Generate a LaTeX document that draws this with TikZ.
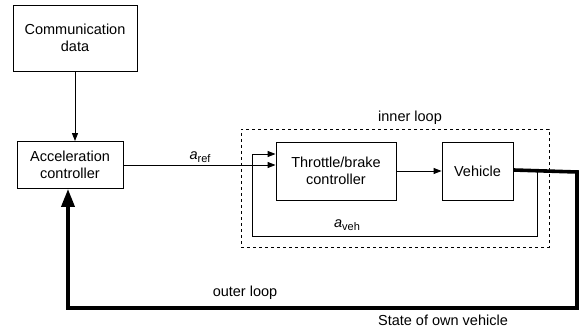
\documentclass[tikz,border=0pt]{standalone}
\usepackage{fontspec}
\setmainfont{Liberation Sans}
\usetikzlibrary{arrows.meta}
\begin{document}
\begin{tikzpicture}[x=1pt,y=-1pt,
  every node/.style={font=\fontsize{14.5}{17}\selectfont},
  blk/.style={draw,line width=0.9pt,align=center,inner sep=0pt},
  thin/.style={line width=0.9pt},
  sig/.style={thin,-{Triangle[length=8pt,width=6pt]}},
  bigsig/.style={line width=3.6pt,-{Triangle[length=18pt,width=13pt]}},
  lbl/.style={inner sep=0pt}]
\useasboundingbox (0,0) rectangle (579,329);
\node[blk,minimum width=124pt,minimum height=66pt] (comm) at (75,38) {Communication\\data};
\node[blk,minimum width=106pt,minimum height=47pt] (acc) at (70,165) {Acceleration\\controller};
\node[blk,minimum width=120pt,minimum height=58pt] (thr) at (336,171) {Throttle/brake\\controller};
\node[blk,minimum width=71pt,minimum height=58pt] (veh) at (477.5,171) {Vehicle};
\node[draw,dashed,line width=0.8pt,minimum width=308pt,minimum height=118pt,inner sep=0pt] (inner) at (395,188) {};
\node[lbl] (innerlbl) at (410,118) {inner loop};
\node[lbl] (areflbl) at (200,157) {\textit{a}\raisebox{-0.45ex}{\fontsize{11}{12}\selectfont ref}};
\node[lbl] (avehlbl) at (347,225) {\textit{a}\raisebox{-0.45ex}{\fontsize{11}{12}\selectfont veh}};
\node[lbl] (outerlbl) at (245,293) {outer loop};
\node[lbl] (statelbl) at (443,320) {State of own vehicle};
\coordinate (thrin2) at ([yshift=17pt]thr.west);
\coordinate (fb) at (537,172);
\coordinate (fbc) at (252,236);
\coordinate (oc1) at (577,172);
\coordinate (oc2) at (68,308);
\draw[sig] (comm.south) -- (comm.south |- acc.north);
\draw[sig] (acc.east) -- (thr.west |- acc.east);
\draw[sig] (thr.east) -- (veh.west);
\draw[thin] (fb) |- (fbc);
\draw[sig] (fbc) |- (thrin2);
\draw[bigsig] ([yshift=1pt]veh.east) -- (oc1) |- (oc2) -- (oc2 |- acc.south);
\end{tikzpicture}
\end{document}
